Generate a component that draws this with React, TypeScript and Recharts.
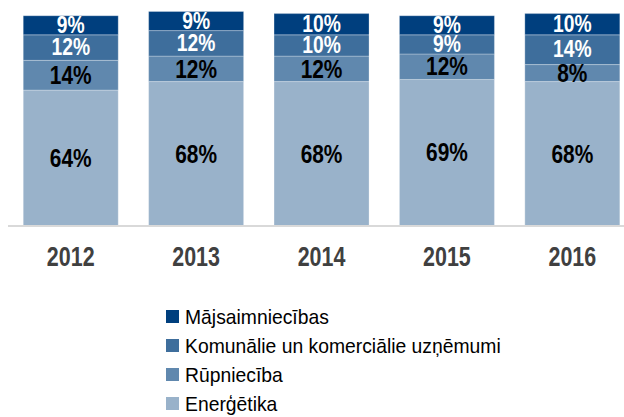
import React from "react";
import { BarChart, Bar, XAxis, YAxis, LabelList } from "recharts";

const years = ["2012", "2013", "2014", "2015", "2016"];
const energetika = [64, 68, 68, 69, 68];
const rupnieciba = [14, 12, 12, 12, 8];
const komunalie = [12, 12, 10, 9, 14];
const majsaimniecibas = [9, 9, 10, 9, 10];

const seriesNames = {
  energetika: "Enerģētika",
  rupnieciba: "Rūpniecība",
  komunalie: "Komunālie un komerciālie uzņēmumi",
  majsaimniecibas: "Mājsaimniecības",
};

const colors = {
  energetika: "#99B2CA",
  rupnieciba: "#6088AE",
  komunalie: "#3E6E9C",
  majsaimniecibas: "#003F7E",
};

const data = years.map((y, i) => ({
  year: y,
  energetika: energetika[i],
  rupnieciba: rupnieciba[i],
  komunalie: komunalie[i],
  majsaimniecibas: majsaimniecibas[i],
}));

const FONT = "'Liberation Sans', Arial, sans-serif";

const legendOrder = ["majsaimniecibas", "komunalie", "rupnieciba", "energetika"] as const;

const YearTick = (props: any) => {
  const { x, y, payload } = props;
  return (
    <text
      transform={`translate(${x},${y + 32}) scale(0.78,1)`}
      textAnchor="middle"
      fill="#404040"
      fontFamily={FONT}
      fontWeight="bold"
      fontSize={27.5}
    >
      {payload.value}
    </text>
  );
};

const makeLabel = (fill: string, size: number) => (props: any) => {
  const { x, y, width, height, value } = props;
  const cx = Number(x) + Number(width) / 2;
  const cy = Number(y) + Number(height) / 2;
  return (
    <text
      transform={`translate(${cx},${cy}) scale(0.82,1)`}
      textAnchor="middle"
      dominantBaseline="central"
      fill={fill}
      fontFamily={FONT}
      fontWeight="bold"
      fontSize={size}
    >
      {`${value}%`}
    </text>
  );
};

const darkLabel = makeLabel("#000", 25.5);
const lightLabel = makeLabel("#fff", 23.5);

export default function App() {
  return (
    <div style={{ position: "absolute", left: 0, top: 0, width: 624, height: 417, overflow: "hidden", background: "#fff" }}>
      <BarChart
        width={640}
        height={417}
        data={data}
        margin={{ top: 3, right: 5, left: 8, bottom: 0 }}
        barCategoryGap="12.15%"
      >
        <XAxis
          dataKey="year"
          axisLine={{ stroke: "#D9D9D9", strokeWidth: 2 }}
          tickLine={false}
          height={191}
          tick={<YearTick />}
          interval={0}
        />
        <YAxis hide domain={[0, 105]} />
        <Bar dataKey="energetika" stackId="a" fill={colors.energetika} stroke="#ffffff" strokeOpacity={0.35} strokeWidth={0.8} isAnimationActive={false}>
          <LabelList dataKey="energetika" content={darkLabel} />
        </Bar>
        <Bar dataKey="rupnieciba" stackId="a" fill={colors.rupnieciba} stroke="#ffffff" strokeOpacity={0.35} strokeWidth={0.8} isAnimationActive={false}>
          <LabelList dataKey="rupnieciba" content={darkLabel} />
        </Bar>
        <Bar dataKey="komunalie" stackId="a" fill={colors.komunalie} stroke="#ffffff" strokeOpacity={0.35} strokeWidth={0.8} isAnimationActive={false}>
          <LabelList dataKey="komunalie" content={lightLabel} />
        </Bar>
        <Bar dataKey="majsaimniecibas" stackId="a" fill={colors.majsaimniecibas} stroke="#ffffff" strokeOpacity={0.35} strokeWidth={0.8} isAnimationActive={false}>
          <LabelList dataKey="majsaimniecibas" content={lightLabel} />
        </Bar>
      </BarChart>
      <div style={{ position: "absolute", left: 166, top: 302, fontFamily: FONT, fontSize: 21, color: "#000" }}>
        {legendOrder.map((k) => (
          <div key={k} style={{ display: "flex", alignItems: "center", height: 29 }}>
            <span
              style={{
                display: "inline-block",
                width: 13,
                height: 13,
                background: colors[k],
                marginRight: 6,
                flex: "none",
              }}
            />
            <span style={{ display: "inline-block", transform: "scaleX(0.92)", transformOrigin: "left center", whiteSpace: "nowrap" }}>
              {seriesNames[k]}
            </span>
          </div>
        ))}
      </div>
    </div>
  );
}
